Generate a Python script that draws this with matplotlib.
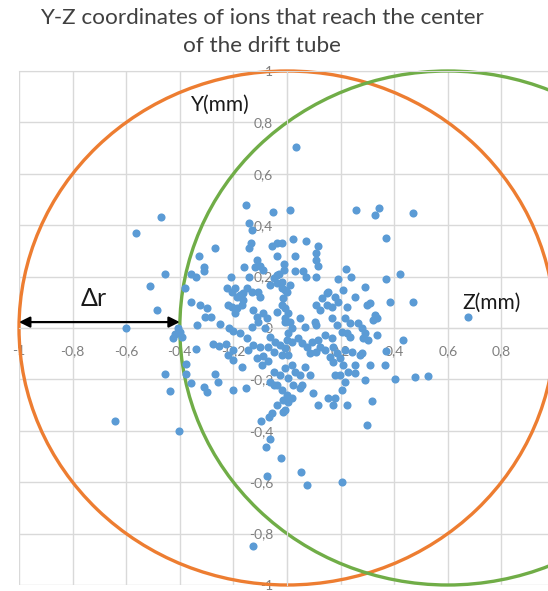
import numpy as np
import matplotlib
matplotlib.use("Agg")
import matplotlib.pyplot as plt
from matplotlib.patches import Circle
from matplotlib.ticker import FuncFormatter, MultipleLocator

plt.rcParams['font.family'] = ['Lato', 'DejaVu Sans']

# ion positions at the centre of the drift tube (mm)
z_mm = [
    -0.153, -0.053, 0.010, -0.470, -0.565, -0.140, -0.130, -0.134, -0.140, -0.270,
    -0.057, -0.038, -0.020, -0.038, -0.330, -0.310, -0.310, -0.455, -0.360, -0.340,
    -0.160, -0.120, -0.100, -0.090, -0.010, -0.010, -0.030, -0.210, -0.140, -0.113,
    0.034, 0.256, 0.343, 0.328, 0.470, 0.370, 0.023, 0.070, 0.117, 0.107,
    0.110, 0.114, 0.030, 0.030, 0.060, 0.070, 0.107, 0.220, 0.240, 0.190,
    0.370, 0.420, -0.107, -0.063, -0.038, -0.020, 0.011, -0.100, 0.148, 0.180,
    -0.510, -0.484, -0.600, -0.380, -0.360, -0.405, -0.418, -0.400, -0.424, -0.393,
    -0.337, -0.340, -0.325, -0.300, -0.305, -0.284, -0.250, -0.275, -0.254, -0.228,
    -0.215, -0.200, -0.175, -0.200, -0.220, -0.200, -0.225, -0.206, -0.194, -0.188,
    -0.175, -0.163, -0.169, -0.188, -0.206, -0.219, -0.150, -0.132, -0.163, -0.194,
    -0.126, -0.113, -0.132, -0.107, -0.088, -0.076, -0.082, -0.150, -0.144, -0.126,
    -0.100, -0.113, -0.088, -0.070, -0.094, -0.169, -0.455, -0.377, -0.377, -0.360,
    -0.437, -0.270, -0.256, -0.310, -0.297, -0.200, -0.153, -0.063, -0.038, -0.050,
    -0.026, -0.007, -0.020, 0.000, 0.005, -0.038, -0.057, -0.038, -0.050, -0.020,
    0.000, -0.016, -0.038, -0.020, -0.007, 0.005, -0.063, -0.045, -0.026, -0.007,
    -0.050, -0.020, 0.005, -0.070, -0.050, -0.014, -0.007, 0.055, 0.204, -0.007,
    0.290, 0.154, 0.130, 0.110, 0.148, 0.190, 0.123, 0.167, 0.210, 0.254,
    0.223, 0.297, 0.310, 0.384, 0.470, 0.677, 0.328, 0.335, 0.322, -0.007,
    0.005, -0.007, 0.011, 0.017, 0.049, 0.067, 0.104, 0.110, 0.167, 0.185,
    0.216, 0.235, 0.266, 0.279, 0.204, 0.223, 0.235, 0.290, 0.303, 0.285,
    0.335, 0.434, 0.000, 0.017, 0.042, 0.055, 0.073, 0.092, 0.117, 0.123,
    0.142, 0.167, 0.173, 0.086, 0.110, 0.142, 0.160, 0.173, 0.198, 0.185,
    0.216, 0.241, 0.279, 0.210, 0.254, 0.272, 0.310, 0.366, 0.370, 0.229,
    0.254, 0.179, 0.198, 0.216, 0.291, 0.017, 0.030, 0.049, 0.067, 0.086,
    0.005, 0.024, 0.049, 0.017, 0.098, 0.117, 0.154, 0.173, 0.179, 0.223,
    0.316, 0.403, 0.478, 0.527,
    -0.642, -0.403, -0.097, -0.066, -0.014, -0.063, -0.078, -0.024, -0.076, -0.128,
    0.297, 0.052, 0.073, 0.206,
]
y_mm = [
    0.480, 0.450, 0.460, 0.430, 0.370, 0.410, 0.380, 0.330, 0.310, 0.310,
    0.320, 0.330, 0.330, 0.280, 0.280, 0.236, 0.220, 0.210, 0.210, 0.200,
    0.236, 0.236, 0.240, 0.225, 0.250, 0.225, 0.210, 0.200, 0.200, 0.265,
    0.705, 0.460, 0.466, 0.440, 0.446, 0.350, 0.345, 0.340, 0.320, 0.293,
    0.265, 0.240, 0.280, 0.223, 0.223, 0.200, 0.200, 0.228, 0.197, 0.190,
    0.190, 0.210, 0.141, 0.167, 0.174, 0.154, 0.167, 0.122, 0.135, 0.122,
    0.165, 0.070, 0.000, 0.157, 0.100, 0.000, -0.025, -0.014, -0.040, -0.034,
    0.010, -0.080, 0.090, 0.077, 0.044, 0.042, 0.014, -0.063, -0.070, -0.063,
    0.000, -0.012, -0.020, -0.085, -0.105, -0.124, 0.154, 0.141, 0.154, 0.122,
    0.128, 0.109, 0.090, 0.077, 0.083, 0.090, 0.154, 0.141, 0.135, 0.057,
    0.070, 0.044, 0.005, 0.025, 0.057, 0.038, 0.000, -0.040, -0.086, -0.066,
    -0.073, -0.118, -0.110, -0.130, -0.144, -0.150, -0.180, -0.141, -0.180, -0.215,
    -0.245, -0.180, -0.210, -0.230, -0.248, -0.240, -0.235, -0.209, -0.222, -0.170,
    -0.183, -0.157, -0.241, -0.260, -0.287, -0.300, -0.330, 0.206, 0.193, 0.180,
    0.141, 0.115, 0.063, 0.090, 0.025, -0.020, -0.034, -0.053, -0.066, -0.079,
    -0.092, -0.105, -0.105, -0.073, -0.222, -0.280, -0.319, -0.220, -0.241, 0.148,
    0.160, 0.141, 0.115, 0.090, 0.090, 0.103, 0.070, 0.083, 0.148, 0.122,
    0.083, 0.090, 0.096, 0.103, 0.100, 0.044, 0.050, 0.038, 0.031, 0.077,
    0.057, 0.038, 0.025, 0.000, 0.038, 0.005, 0.025, 0.012, 0.038, 0.012,
    0.038, 0.018, 0.018, 0.000, -0.014, -0.020, -0.034, -0.020, -0.047, -0.040,
    -0.027, -0.047, -0.047, -0.053, -0.040, -0.060, -0.073, -0.053, -0.047, -0.073,
    -0.027, -0.040, -0.073, -0.099, -0.092, -0.086, -0.112, -0.131, -0.118, -0.099,
    -0.086, -0.092, -0.099, -0.144, -0.144, -0.105, -0.144, -0.144, -0.090, -0.170,
    -0.176, -0.183, -0.183, -0.209, -0.202, -0.144, -0.170, -0.183, -0.150, -0.183,
    -0.196, -0.222, -0.235, -0.274, -0.254, -0.300, -0.274, -0.300, -0.274, -0.300,
    -0.284, -0.198, -0.190, -0.185,
    -0.360, -0.400, -0.360, -0.345, -0.326, -0.433, -0.462, -0.505, -0.576, -0.848,
    -0.377, -0.560, -0.610, -0.600,
]

# tube wall (centred) and shifted wall, radius in mm
tube_center = (0.0, 0.0)
shifted_center = (0.6, 0.0)
tube_radius = 1.0
dr_start, dr_end = -1.0, -0.4

fig = plt.figure(figsize=(5.48, 5.91), dpi=100)
ax = fig.add_axes([19 / 548, 6 / 591, 536 / 548, 514 / 591])

ax.set_xlim(-1, 1)
ax.set_ylim(-1, 1)
ax.xaxis.set_major_locator(MultipleLocator(0.2))
ax.yaxis.set_major_locator(MultipleLocator(0.2))
ax.grid(True, color='#d9d9d9', lw=1)
ax.set_axisbelow(True)

for side in ['top', 'right']:
    ax.spines[side].set_color('#d9d9d9')
ax.spines['left'].set_position('zero')
ax.spines['bottom'].set_position('zero')
ax.spines['left'].set_color('#d9d9d9')
ax.spines['bottom'].set_color('#d9d9d9')


def comma_fmt(v, pos):
    return ('%g' % round(v, 1)).replace('.', ',')


def z_fmt(v, pos):
    # the label at z = 1 falls outside the figure
    if v > 0.95:
        return ''
    return comma_fmt(v, pos)


ax.xaxis.set_major_formatter(FuncFormatter(z_fmt))
ax.yaxis.set_major_formatter(FuncFormatter(comma_fmt))
ax.tick_params(axis='both', length=0, labelsize=10, labelcolor='#7f7f7f')
ax.tick_params(axis='x', pad=12)
ax.tick_params(axis='y', pad=10)

ax.add_patch(Circle(tube_center, tube_radius, fill=False, color='#ED7D31',
                    lw=2.4, clip_on=False, zorder=2))
ax.add_patch(Circle(shifted_center, tube_radius, fill=False, color='#70AD47',
                    lw=2.4, clip_on=False, zorder=2))

ax.scatter(z_mm, y_mm, s=34, color='#5B9BD5', linewidths=0, zorder=3)

ax.annotate('', xy=(dr_end, 0.023), xytext=(dr_start, 0.023),
            arrowprops=dict(arrowstyle='<|-|>', color='black', lw=1.6,
                            mutation_scale=16, shrinkA=0, shrinkB=0),
            zorder=4)
ax.text(-0.72, 0.113, 'Δr', fontsize=18, ha='center', va='center', color='#1a1a1a')
ax.text(-0.25, 0.87, 'Y(mm)', fontsize=15, ha='center', va='center', color='#1a1a1a')
ax.text(0.765, 0.097, 'Z(mm)', fontsize=15, ha='center', va='center', color='#1a1a1a')

fig.text(262 / 548, 1 - 32 / 591,
         'Y-Z coordinates of ions that reach the center\nof the drift tube',
         ha='center', va='center', fontsize=16.2, color='#404040', linespacing=1.55)

fig.savefig('out.png', dpi=100)
